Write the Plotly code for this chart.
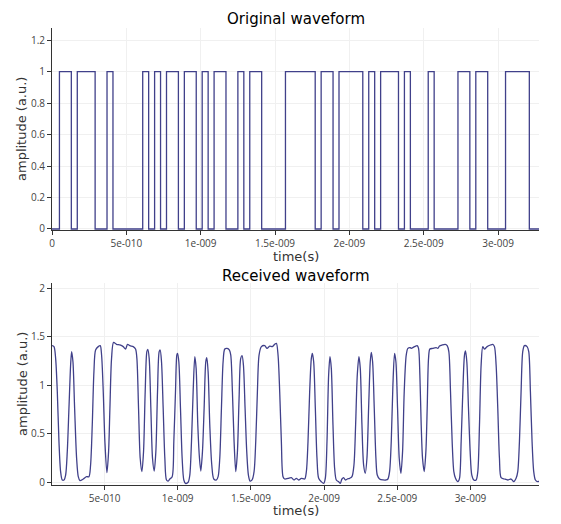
import plotly.graph_objects as go

# ---------------- data ----------------
# Original waveform: bit values in 40 ps slots (first slot starts at 10 ps)
bit_period_ps = 40
bit_offset_ps = 10
bits = [0, 1, 1, 0, 1, 1, 1, 0, 0, 1,
        0, 0, 0, 0, 0, 1, 0, 1, 0, 1,
        1, 0, 1, 1, 0, 1, 0, 1, 1, 0,
        0, 1, 0, 1, 1, 0, 0, 0, 0, 1,
        1, 1, 1, 1, 0, 1, 1, 0, 1, 1,
        1, 1, 0, 1, 0, 1, 1, 1, 0, 1,
        0, 0, 0, 1, 0, 0, 0, 0, 1, 1,
        0, 1, 1, 0, 0, 0, 1, 1, 1, 1,
        0, 0]

# Received waveform (time in ns, amplitude a.u.)
rx_time_ns = [
    0.1410, 0.1547, 0.1660, 0.1774, 0.1888, 0.2001, 0.2115, 0.2229, 0.2343, 0.2456,
    0.2570, 0.2684, 0.2752, 0.2843, 0.2957, 0.3093, 0.3207, 0.3321, 0.3548, 0.3776,
    0.3935, 0.4048, 0.4162, 0.4276, 0.4390, 0.4572, 0.4708, 0.4799, 0.4913, 0.5026,
    0.5163, 0.5277, 0.5368, 0.5481, 0.5618, 0.5822, 0.6050, 0.6277, 0.6437, 0.6573,
    0.6732, 0.6960, 0.7119, 0.7210, 0.7324, 0.7437, 0.7551, 0.7665, 0.7778, 0.7892,
    0.7960, 0.8051, 0.8165, 0.8279, 0.8393, 0.8506, 0.8620, 0.8734, 0.8802, 0.8893,
    0.9007, 0.9120, 0.9234, 0.9348, 0.9461, 0.9621, 0.9734, 0.9848, 0.9939, 0.9985,
    1.0076, 1.0189, 1.0303, 1.0417, 1.0530, 1.0712, 1.0826, 1.0940, 1.1054, 1.1167,
    1.1258, 1.1372, 1.1486, 1.1577, 1.1690, 1.1804, 1.1918, 1.1986, 1.2077, 1.2191,
    1.2327, 1.2464, 1.2646, 1.2759, 1.2873, 1.2987, 1.3101, 1.3214, 1.3373, 1.3533,
    1.3624, 1.3737, 1.3851, 1.3965, 1.4079, 1.4192, 1.4306, 1.4397, 1.4488, 1.4602,
    1.4715, 1.4829, 1.4943, 1.5079, 1.5216, 1.5329, 1.5443, 1.5557, 1.5716, 1.5944,
    1.6103, 1.6285, 1.6467, 1.6626, 1.6740, 1.6853, 1.6967, 1.7081, 1.7194, 1.7308,
    1.7536, 1.7763, 1.7945, 1.8104, 1.8263, 1.8445, 1.8673, 1.8787, 1.8900, 1.9014,
    1.9128, 1.9196, 1.9287, 1.9401, 1.9514, 1.9628, 1.9810, 1.9969, 2.0083, 2.0197,
    2.0310, 2.0401, 2.0492, 2.0606, 2.0720, 2.0834, 2.0993, 2.1106, 2.1220, 2.1334,
    2.1448, 2.1584, 2.1743, 2.1902, 2.2039, 2.2153, 2.2266, 2.2380, 2.2471, 2.2585,
    2.2699, 2.2812, 2.2926, 2.3040, 2.3153, 2.3222, 2.3313, 2.3426, 2.3540, 2.3631,
    2.3790, 2.4018, 2.4245, 2.4359, 2.4473, 2.4586, 2.4700, 2.4814, 2.4905, 2.5018,
    2.5132, 2.5246, 2.5360, 2.5473, 2.5610, 2.5723, 2.5905, 2.5951, 2.6178, 2.6360,
    2.6451, 2.6542, 2.6633, 2.6724, 2.6838, 2.6952, 2.7043, 2.7134, 2.7225, 2.7429,
    2.7657, 2.7770, 2.7884, 2.8066, 2.8271, 2.8407, 2.8521, 2.8635, 2.8748, 2.8862,
    2.8976, 2.9135, 2.9249, 2.9362, 2.9476, 2.9590, 2.9658, 2.9749, 2.9863, 2.9977,
    3.0090, 3.0227, 3.0386, 3.0500, 3.0614, 3.0727, 3.0841, 3.0955, 3.1137, 3.1364,
    3.1523, 3.1637, 3.1751, 3.1864, 3.1978, 3.2092, 3.2319, 3.2547, 3.2774, 3.2956,
    3.3115, 3.3229, 3.3343, 3.3456, 3.3570, 3.3684, 3.3866, 3.3980, 3.4093, 3.4207,
    3.4321, 3.4434, 3.4594, 3.4684]
rx_amp = [
    1.410, 1.400, 1.279, 0.934, 0.417, 0.107, 0.021, 0.021, 0.072, 0.314,
    0.762, 1.210, 1.348, 1.244, 0.762, 0.245, 0.055, 0.014, 0.031, 0.055,
    0.055, 0.176, 0.589, 1.141, 1.365, 1.400, 1.410, 1.313, 0.934, 0.417,
    0.097, 0.314, 0.762, 1.279, 1.444, 1.424, 1.417, 1.400, 1.375, 1.424,
    1.410, 1.400, 1.375, 1.279, 0.762, 0.245, 0.107, 0.314, 0.934, 1.348,
    1.372, 1.279, 0.762, 0.245, 0.114, 0.314, 0.934, 1.348, 1.365, 1.244,
    0.762, 0.245, 0.021, 0.010, 0.031, 0.055, 0.417, 0.934, 1.313, 1.331,
    1.244, 0.762, 0.245, 0.021, -0.014, -0.003, 0.072, 0.417, 0.934, 1.296,
    1.175, 0.589, 0.245, 0.114, 0.314, 0.762, 1.244, 1.286, 1.141, 0.589,
    0.176, 0.031, 0.021, 0.055, 0.245, 0.762, 1.244, 1.375, 1.382, 1.365,
    1.313, 0.934, 0.417, 0.107, 0.314, 0.865, 1.279, 1.306, 1.210, 0.762,
    0.314, 0.072, 0.010, 0.021, 0.107, 0.417, 0.934, 1.313, 1.400, 1.410,
    1.382, 1.406, 1.400, 1.424, 1.434, 1.313, 0.934, 0.417, 0.055, 0.031,
    0.038, 0.045, 0.021, 0.038, 0.021, 0.038, 0.031, 0.107, 0.417, 0.934,
    1.279, 1.331, 1.244, 0.762, 0.245, 0.038, 0.003, -0.014, 0.038, 0.417,
    1.107, 1.296, 1.175, 0.589, 0.141, 0.021, 0.003, -0.014, 0.031, 0.045,
    0.021, 0.031, 0.038, 0.055, 0.176, 0.589, 1.107, 1.296, 1.175, 0.589,
    0.176, 0.090, 0.245, 0.762, 1.244, 1.341, 1.244, 0.762, 0.245, 0.072,
    0.031, 0.021, 0.021, 0.031, 0.107, 0.417, 1.003, 1.331, 1.244, 0.762,
    0.245, 0.090, 0.314, 0.934, 1.313, 1.382, 1.389, 1.382, 1.400, 1.410,
    1.382, 1.107, 0.589, 0.245, 0.107, 0.314, 0.762, 1.279, 1.375, 1.382,
    1.389, 1.382, 1.406, 1.417, 1.424, 1.410, 1.348, 0.934, 0.417, 0.107,
    0.038, 0.003, 0.038, 0.417, 0.934, 1.313, 1.355, 1.244, 0.762, 0.314,
    0.072, 0.021, 0.021, 0.107, 0.589, 1.210, 1.400, 1.375, 1.400, 1.417,
    1.424, 1.400, 1.210, 0.762, 0.245, 0.045, 0.031, 0.021, 0.031, 0.003,
    0.038, 0.107, 0.417, 0.934, 1.348, 1.410, 1.400, 1.348, 0.934, 0.417,
    0.107, 0.021, 0.003, 0.010]

x_tick_vals = [0, 5e-10, 1e-9, 1.5e-9, 2e-9, 2.5e-9, 3e-9]
x_tick_text = ["0", "5e-010", "1e-009", "1.5e-009", "2e-009", "2.5e-009", "3e-009"]

titles = ["Original waveform", "Received waveform"]
x_title = "time(s)"
y_title = "amplitude (a.u.)"

# ---------------- build ----------------
orig_x = [0.0]
orig_y = [0]
for k, b in enumerate(bits):
    orig_x.append((bit_offset_ps + k * bit_period_ps) * 1e-12)
    orig_y.append(b)
orig_x.append((bit_offset_ps + len(bits) * bit_period_ps) * 1e-12)
orig_y.append(bits[-1])

rx_x = [t * 1e-9 for t in rx_time_ns]

line_color = "#40408a"
fig = go.Figure()
fig.add_trace(go.Scatter(x=orig_x, y=orig_y, mode="lines", line=dict(color=line_color, width=1.3, shape="hv"),
                         xaxis="x", yaxis="y", showlegend=False))
fig.add_trace(go.Scatter(x=rx_x, y=rx_amp, mode="lines",
                         line=dict(color=line_color, width=1.3, shape="spline", smoothing=0.8),
                         xaxis="x2", yaxis="y2", showlegend=False))

tick_font = dict(family="Open Sans", size=10, color="#444444")
common_x = dict(showline=True, linecolor="#333333", linewidth=1, ticks="outside", ticklen=4,
                tickcolor="#333333", tickfont=tick_font, showgrid=True, gridcolor="#f0f0f0",
                zeroline=False, tickvals=x_tick_vals, ticktext=x_tick_text)
common_y = dict(showline=True, linecolor="#333333", linewidth=1, ticks="outside", ticklen=4,
                tickcolor="#333333", tickfont=tick_font, showgrid=True, gridcolor="#f0f0f0",
                zeroline=False)

fig.update_layout(
    width=553, height=516,
    margin=dict(l=44, r=22, t=20, b=39),
    paper_bgcolor="white", plot_bgcolor="white",
    xaxis=dict(domain=[0, 1], anchor="y", range=[0, 3.275e-9], **common_x),
    yaxis=dict(domain=[0.558, 1], anchor="x", range=[-0.0064, 1.278], dtick=0.2, **common_y),
    xaxis2=dict(domain=[0, 1], anchor="y2", range=[0.1412e-9, 3.468e-9], **common_x),
    yaxis2=dict(domain=[0, 0.442], anchor="x2", range=[-0.031, 2.058], dtick=0.5, **common_y),
)

title_font = dict(family="DejaVu Sans", size=15, color="#000000")
label_font = dict(family="DejaVu Sans", size=13, color="#333333")
ann = []
for title, ty, xt_y, yt_y in [(titles[0], 1.0197, 0.5005, 0.779), (titles[1], 0.458, -0.0567, 0.221)]:
    ann.append(dict(text=title, x=0.5, y=ty, xref="paper", yref="paper", showarrow=False,
                    xanchor="center", yanchor="middle", font=title_font))
    ann.append(dict(text=x_title, x=0.5, y=xt_y, xref="paper", yref="paper", showarrow=False,
                    xanchor="center", yanchor="middle", font=label_font))
    ann.append(dict(text=y_title, x=-0.0616, y=yt_y, xref="paper", yref="paper", showarrow=False,
                    xanchor="center", yanchor="middle", textangle=-90, font=label_font))
fig.update_layout(annotations=ann)

fig.write_html("out.html")
